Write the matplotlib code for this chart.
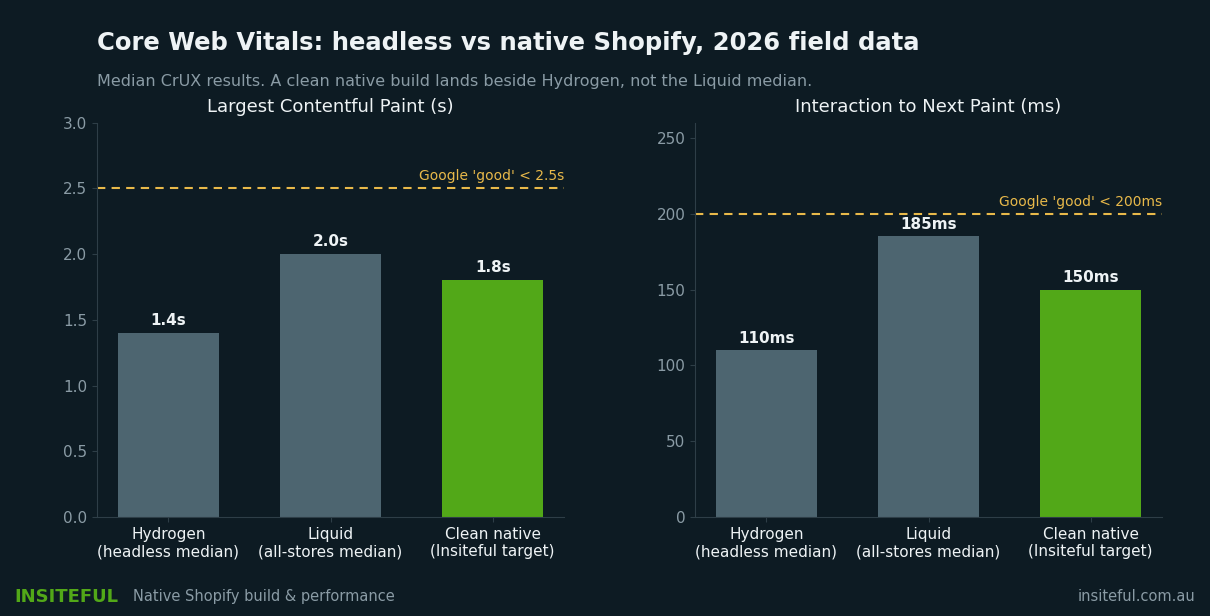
import matplotlib
matplotlib.use("Agg")
import matplotlib.pyplot as plt

categories = ["Hydrogen\n(headless median)", "Liquid\n(all-stores median)", "Clean native\n(Insiteful target)"]
lcp = [1.4, 2.0, 1.8]
inp = [110, 185, 150]
lcp_labels = ["1.4s", "2.0s", "1.8s"]
inp_labels = ["110ms", "185ms", "150ms"]

BG = "#0d1b23"
GREY = "#4d6570"
GREEN = "#52a818"
GOLD = "#e8b94a"
TXT = "#eef3f5"
MUTED = "#8a9ba5"
SPINE = "#2e3e47"

fig = plt.figure(figsize=(12.1, 6.16), dpi=100, facecolor=BG)
colors = [GREY, GREY, GREEN]

def panel(rect, vals, labels, title, ylim, yticks, thr, thrlabel, off):
    ax = fig.add_axes(rect, facecolor=BG)
    x = range(len(vals))
    ax.bar(x, vals, width=0.62, color=colors)
    for i, (v, l) in enumerate(zip(vals, labels)):
        ax.text(i, v + off, l, ha="center", va="bottom", color=TXT, fontsize=11, fontweight="bold")
    ax.axhline(thr, color=GOLD, ls="--", lw=1.5, dashes=(4, 3))
    ax.text(2.44, thr + off, thrlabel, ha="right", va="bottom", color=GOLD, fontsize=10)
    ax.set_xlim(-0.44, 2.44)
    ax.set_ylim(*ylim)
    ax.set_yticks(yticks)
    ax.set_xticks(list(x))
    ax.set_xticklabels(categories, color=TXT, fontsize=11)
    ax.tick_params(axis="y", colors=MUTED, labelsize=11)
    ax.tick_params(axis="x", colors=SPINE, labelcolor=TXT)
    ax.tick_params(axis="y", color=SPINE)
    for s in ["top", "right"]:
        ax.spines[s].set_visible(False)
    for s in ["left", "bottom"]:
        ax.spines[s].set_color(SPINE)
    ax.set_title(title, color=TXT, fontsize=13, pad=8)
    return ax

panel([0.0802, 0.1607, 0.386, 0.64], lcp, lcp_labels, "Largest Contentful Paint (s)",
      (0, 3.0), [0, 0.5, 1.0, 1.5, 2.0, 2.5, 3.0], 2.5, "Google 'good' < 2.5s", 0.04)
ax2 = panel([0.5744, 0.1607, 0.386, 0.64], inp, inp_labels, "Interaction to Next Paint (ms)",
      (0, 260), [0, 50, 100, 150, 200, 250], 200, "Google 'good' < 200ms", 3)
ax2.axes.yaxis.set_major_formatter(matplotlib.ticker.FormatStrFormatter("%d"))

fig.text(0.080, 0.93, "Core Web Vitals: headless vs native Shopify, 2026 field data",
         color=TXT, fontsize=17.5, fontweight="bold", va="center")
fig.text(0.080, 0.868, "Median CrUX results. A clean native build lands beside Hydrogen, not the Liquid median.",
         color=MUTED, fontsize=11.5, va="center")
fig.text(0.012, 0.031, "INSITEFUL", color=GREEN, fontsize=13, fontweight="bold", va="center")
fig.text(0.110, 0.031, "Native Shopify build & performance", color=MUTED, fontsize=10.5, va="center")
fig.text(0.988, 0.031, "insiteful.com.au", color=MUTED, fontsize=10.5, va="center", ha="right")

fig.savefig("out.png", dpi=100, facecolor=BG)
